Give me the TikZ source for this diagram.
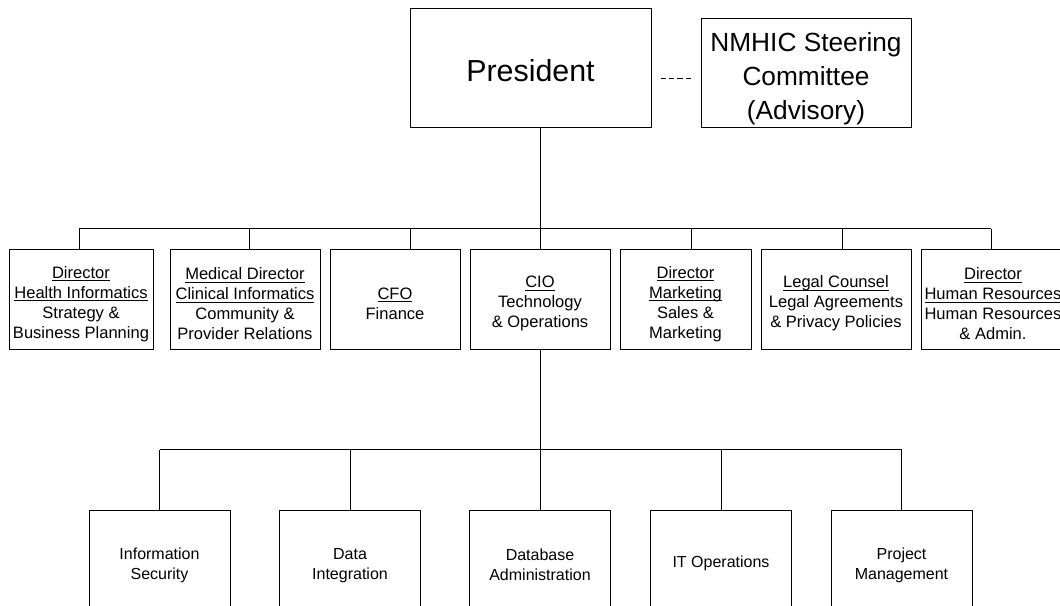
\documentclass[tikz,border=0pt]{standalone}
\usepackage{fontspec}
\setmainfont{Liberation Sans}
\usetikzlibrary{calc}

% underlined heading line: a rule under the text at a fixed depth
\newsavebox\hdrbox
\newcommand\hdr[1]{\sbox\hdrbox{#1}\rlap{\rule[-1.9pt]{\wd\hdrbox}{0.7pt}}\usebox\hdrbox}
% invisible strut that lowers a text block inside its box
\newcommand\padtop[1]{\rule{0pt}{#1}}

\begin{document}
\begin{tikzpicture}[x=0.75pt,y=-0.75pt,
  box/.style={draw, line width=0.75pt, inner sep=0pt, align=center},
  mid/.style={box, minimum height=75pt, font=\fontsize{12.4}{15}\selectfont},
  low/.style={box, minimum width=105.75pt, minimum height=79.5pt, font=\fontsize{12}{15}\selectfont},
  wire/.style={line width=0.75pt}]
\useasboundingbox (0,0) rectangle (1060,606);
\fill[white] (0,0) rectangle (1060,606);
\clip (0,0) rectangle (1060,606);

% top level
\node[box, minimum width=180.75pt, minimum height=89.25pt, font=\fontsize{22.8}{27}\selectfont] (pres) at (530.5,68.5) {\padtop{20.4pt}President};
\node[box, minimum width=157.5pt, minimum height=81.75pt, font=\fontsize{19.7}{25.5}\selectfont] (nmhic) at (806,73.5) {\padtop{22pt}NMHIC Steering\\Committee\\(Advisory)};
\draw[wire, dash pattern=on 4.1pt off 2.25pt] ($(nmhic.west)+(-40,5.5)$) -- ($(nmhic.west)+(-9,5.5)$);

% second level
\node[mid, minimum width=108pt] (hi) at (81,299) {\padtop{16.5pt}\hdr{Director}\\\hdr{Health Informatics}\\Strategy \&\\Business Planning};
\node[mid, minimum width=112.5pt] (ci) at (245,299) {\padtop{16.5pt}\hdr{Medical Director}\\\hdr{Clinical Informatics}\\Community \&\\Provider Relations};
\node[mid, minimum width=97.5pt] (cfo) at (395,299) {\padtop{15.5pt}\hdr{CFO}\\Finance};
\node[mid, minimum width=105pt] (cio) at (540,299) {\padtop{16pt}\hdr{CIO}\\Technology\\\& Operations};
\node[mid, minimum width=98.25pt] (mkt) at (685.5,299) {\padtop{16.5pt}\hdr{Director}\\\hdr{Marketing}\\Sales \&\\Marketing};
\node[mid, minimum width=112.5pt] (legal) at (836,299) {\padtop{16pt}\hdr{Legal Counsel}\\Legal Agreements\\\& Privacy Policies};
\node[mid, minimum width=108pt] (hr) at (993,299) {\padtop{16.5pt}\hdr{Director}\\\hdr{Human Resources}\\Human Resources\\\& Admin.};

% president to second level
\draw[wire] (cio.north |- pres.south) -- (cio.north);
\draw[wire] ($(hi.north)+(-2,-20)$) -- ($(hr.north)+(-2,-20)$);
\draw[wire] ($(hi.north)+(-2,0)$) -- ++(0,-20);
\draw[wire] ($(ci.north)+(4,0)$) -- ++(0,-20);
\draw[wire] ($(cfo.north)+(15,0)$) -- ++(0,-20);
\draw[wire] ($(mkt.north)+(5.5,0)$) -- ++(0,-20);
\draw[wire] ($(legal.north)+(6,0)$) -- ++(0,-20);
\draw[wire] ($(hr.north)+(-2,0)$) -- ++(0,-20);

% third level
\node[low] (sec) at (159.5,563) {\padtop{11.5pt}Information\\Security};
\node[low] (dint) at (350,563) {\padtop{11.5pt}Data\\Integration};
\node[low] (dba) at (540,563) {\padtop{11.5pt}Database\\Administration};
\node[low] (itops) at (721,563) {IT Operations};
\node[low] (pm) at (901.5,563) {\padtop{11.5pt}Project\\Management};

% CIO to third level
\draw[wire] (cio.south) -- (dba.north);
\draw[wire] ($(sec.north)+(0,-60)$) -- ($(pm.north)+(0,-60)$);
\draw[wire] (sec.north) -- ++(0,-60);
\draw[wire] (dint.north) -- ++(0,-60);
\draw[wire] (itops.north) -- ++(0,-60);
\draw[wire] (pm.north) -- ++(0,-60);
\end{tikzpicture}
\end{document}
